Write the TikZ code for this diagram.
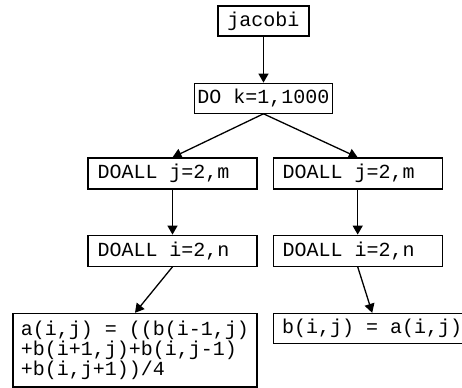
\documentclass[tikz,border=0pt]{standalone}
\usepackage{fontspec}
\setmonofont{Liberation Mono}
\usetikzlibrary{positioning, arrows.meta}

\begin{document}
\begin{tikzpicture}[box/.style={draw, line width=.6pt, rectangle, font=\ttfamily\fontsize{10}{10}\selectfont, inner xsep=1.5pt, inner ysep=0pt, minimum height=15pt},
    loop/.style={box, inner xsep=4.75pt, minimum height=15.5pt},
    edge/.style={-{Triangle[length=4.5pt, width=5pt]}, line width=.65pt}]
    \useasboundingbox (0pt, 0pt) rectangle (231pt, -193.5pt);
    \node (jacobi) [box, minimum width=45.5pt] at (131.75pt, -10.5pt) {jacobi};
    \node (dok) [box, below=23pt of jacobi] {DO k=1,1000};
    % loop headers, text kept flush left in a fixed width
    \node (jloopA) [loop] at (86.25pt, -86.75pt) {\makebox[75pt][l]{DOALL j=2,m}};
    \node (jloopB) [loop, right=7.5pt of jloopA] {\makebox[75pt][l]{DOALL j=2,m}};
    \node (iloopA) [loop, below=22.5pt of jloopA] {\makebox[75pt][l]{DOALL i=2,n}};
    \node (iloopB) [loop, below=22.5pt of jloopB] {\makebox[75pt][l]{DOALL i=2,n}};
    \node (stmtA) [box, align=left, inner xsep=4pt, inner ysep=3.75pt, below=23pt of iloopA.south east, anchor=north east] {a(i,j) = ((b(i-1,j)\\+b(i+1,j)+b(i,j-1)\\+b(i,j+1))/4};
    \node (stmtB) [box, inner xsep=4.5pt, below=23pt of iloopB.south west, anchor=north west] {b(i,j) = a(i,j)};
    \draw [edge] (jacobi) -- (dok);
    \draw [edge] (dok.south) -- (jloopA.north);
    \draw [edge] (dok.south) -- (jloopB.north);
    \draw [edge] (jloopA) -- (iloopA);
    \draw [edge] (jloopB) -- (iloopB);
    \draw [edge] (iloopA.south) -- (stmtA.north);
    \draw [edge] (iloopB.south) -- (stmtB.north);
\end{tikzpicture}
\end{document}
